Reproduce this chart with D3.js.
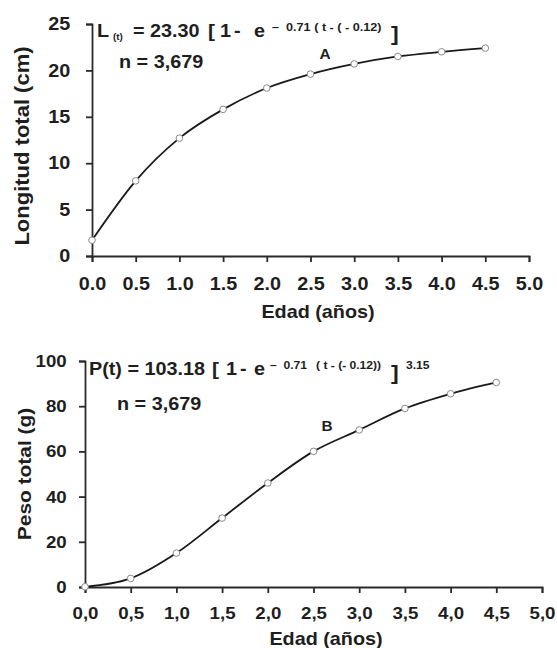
<!DOCTYPE html>
<head>
<style>
  body { margin: 0; background: #fff; }
  text { font-family: "Liberation Sans", Arial, sans-serif; font-weight: bold; fill: #1e1e1e; white-space: pre; }
</style>
</head>
<body>
<svg width="557" height="648"></svg>
<script src="https://d3js.org/d3.v7.min.js"></script>
<script>

// data
var ages = [0, 0.5, 1.0, 1.5, 2.0, 2.5, 3.0, 3.5, 4.0, 4.5];
var lengthVals = [1.7, 8.1, 12.7, 15.8, 18.1, 19.6, 20.7, 21.5, 22.0, 22.4];   // Longitud total (cm)
var weightVals = [0.1, 3.8, 15.0, 30.5, 46.0, 60.0, 69.5, 79.0, 85.5, 90.5];   // Peso total (g)
var xTicks = [0, 0.5, 1.0, 1.5, 2.0, 2.5, 3.0, 3.5, 4.0, 4.5, 5.0];
var yTicksA = [0, 5, 10, 15, 20, 25];
var yTicksB = [0, 20, 40, 60, 80, 100];

var svg = d3.select("svg");
var STRETCH = "scale(1.1,1)";   // the original lettering is a bit wide

// little helper for free text (x,y = left/baseline unless anchor given)
function put(g, x, y, txt, size, anchor) {
  return g.append("text")
      .attr("transform", "translate(" + x + "," + y + ") " + STRETCH)
      .attr("font-size", size)
      .attr("text-anchor", anchor || "start")
      .text(txt);
}

function panel(opt) {
  var x = d3.scaleLinear().domain([0, 5]).range(opt.xr);
  var y = d3.scaleLinear().domain(opt.yd).range(opt.yr);
  var g = svg.append("g");

  var ax = g.append("g")
      .attr("transform", "translate(0," + opt.yr[0] + ")")
      .call(d3.axisBottom(x).tickValues(xTicks).tickSize(6).tickPadding(opt.xpad).tickFormat(opt.fmt));
  var ay = g.append("g")
      .attr("transform", "translate(" + opt.xr[0] + ",0)")
      .call(d3.axisLeft(y).tickValues(opt.yticks).tickSize(6).tickPadding(opt.ypad));

  [ax, ay].forEach(function(a) {
    a.selectAll("path, line").attr("stroke", "#2a2a2a").attr("stroke-width", 1.8);
    a.selectAll("text").attr("fill", "#1e1e1e").attr("font-size", opt.fs)
      .attr("font-family", null).attr("transform", STRETCH);
  });

  var line = d3.line()
      .x(function(d) { return x(d[0]); })
      .y(function(d) { return y(d[1]); })
      .curve(d3.curveMonotoneX);
  var pts = d3.zip(ages, opt.vals);

  g.append("path")
      .datum(pts)
      .attr("fill", "none")
      .attr("stroke", "#1a1a1a")
      .attr("stroke-width", 1.8)
      .attr("d", line);

  g.selectAll("circle")
    .data(pts)
    .enter().append("circle")
      .attr("cx", function(d) { return x(d[0]); })
      .attr("cy", function(d) { return y(d[1]); })
      .attr("r", 3.3)
      .attr("fill", "#fff")
      .attr("stroke", "#8a8a8a")
      .attr("stroke-width", 1);

  // axis titles
  put(g, opt.xt[0], opt.xt[1], "Edad (años)", opt.tfs, "middle");
  g.append("text")
      .attr("transform", "translate(" + opt.yt[0] + "," + opt.yt[1] + ") rotate(-90) " + STRETCH)
      .attr("text-anchor", "middle")
      .attr("font-size", opt.yfs)
      .text(opt.ytitle);

  return g;
}

var gA = panel({
  xr: [92, 529], yr: [256, 24], yd: [0, 25], yticks: yTicksA,
  vals: lengthVals, fmt: d3.format(".1f"), fs: 18, xpad: 15, ypad: 13.7,
  xt: [318, 318], yt: [29, 146], tfs: 18, yfs: 20, ytitle: "Longitud total (cm)"
});

var gB = panel({
  xr: [85, 542], yr: [587, 361], yd: [0, 100], yticks: yTicksB,
  vals: weightVals, fmt: function(d) { return d3.format(".1f")(d).replace(".", ","); },
  fs: 17, xpad: 14, ypad: 10.6,
  xt: [326, 645], yt: [31, 474], tfs: 18, yfs: 19, ytitle: "Peso total (g)"
});

// equation A
put(gA, 97, 37, "L", 18);
put(gA, 113, 40, "(t)", 9);
put(gA, 133, 37, "= 23.30", 18);
put(gA, 208, 37, "[", 19);
put(gA, 220, 37, "1", 18);
put(gA, 234, 37, "-", 18);
put(gA, 254, 37, "e", 18);
put(gA, 272, 31, "–  0.71 ( t - ( - 0.12)", 11.5);
put(gA, 391, 41, "]", 21);
put(gA, 119, 68, "n = 3,679", 18);
put(gA, 325, 59, "A", 14, "middle");

// equation B
put(gB, 89, 375, "P(t) = 103.18", 18);
put(gB, 212, 375, "[", 19);
put(gB, 226, 375, "1", 18);
put(gB, 240, 375, "-", 18);
put(gB, 254, 375, "e", 18);
put(gB, 270, 369, "–  0.71", 11);
put(gB, 316, 369, "( t - (- 0.12))", 11);
put(gB, 391, 380, "]", 21);
put(gB, 406, 369, "3.15", 11);
put(gB, 117, 410, "n = 3,679", 18);
put(gB, 327, 431, "B", 14, "middle");

</script>
</body>
